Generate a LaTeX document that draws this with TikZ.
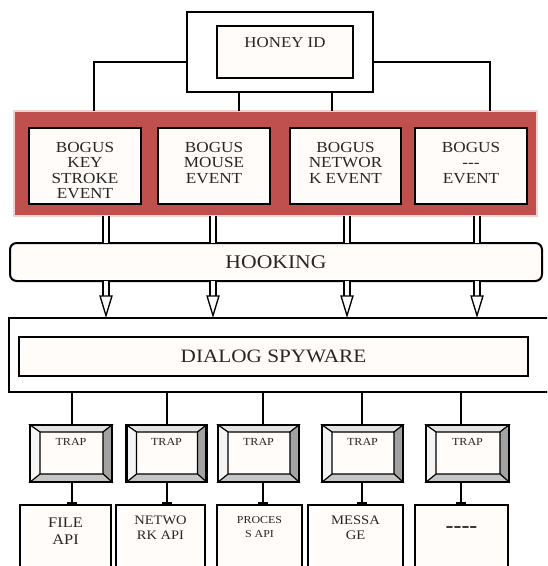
\documentclass[tikz,border=0pt]{standalone}
\usepackage{fontspec}
\setmainfont{Liberation Serif}[FakeStretch=1.12]
\usepackage{tikz}
\usetikzlibrary{arrows.meta,calc}
\definecolor{HoneyRed}{HTML}{C0504D}
\definecolor{HoneyPink}{HTML}{EFD3D2}
\definecolor{HoneyPaper}{HTML}{FFFCF9}
\definecolor{HoneyInk}{HTML}{262626}
\definecolor{HoneyBevelT}{HTML}{E2E2E2}
\definecolor{HoneyBevelL}{HTML}{F5F5F5}
\definecolor{HoneyBevelR}{HTML}{A2A2A2}
\definecolor{HoneyBevelB}{HTML}{C6C6C6}
\newcommand{\fs}[2]{\fontsize{#1pt}{#2pt}\selectfont}

\begin{document}
\begin{tikzpicture}[x=0.75pt,y=-0.75pt,
  sz/.style 2 args={minimum width=#1*0.75pt,minimum height=#2*0.75pt},
  box/.style={draw,line width=1.5pt,fill=HoneyPaper,inner sep=0pt,outer sep=0pt,text=HoneyInk},
  thinbox/.style={box,line width=1.1pt},
  toptext/.style={anchor=north,align=center,inner sep=0pt,text=HoneyInk},
  event/.style={box,sz={112}{76},label={[toptext,yshift=-10.5pt,font=\fs{11.5}{11.5}]north:{#1}}},
  trap/.style={box,line width=1.8pt,label={[toptext,yshift=-9.75pt,font=\fs{8.1}{9}]north:TRAP}},
  link/.style={line width=1.1pt},
  shaft/.style={double=white,double distance=3.4pt,line width=1pt},
  hollow/.style={shaft,-{Triangle[open,length=17pt,width=10pt]}},
  tapped/.style={link,-{Rectangle[length=2.6pt,width=6.8pt]}},
  bevel/.style={draw,line width=0.8pt},
]
\useasboundingbox (0,0) rectangle (547,566);
\clip (0,0) rectangle (547,566);

% honey id
\node[box,fill=white,sz={186}{80}] (honeyframe) at (280,52) {};
\node[box,sz={136}{52},label={[toptext,yshift=-8.25pt,font=\fs{11.3}{13}]north:HONEY ID}] (honey) at (285,52) {};

% bogus events
\node[draw=HoneyPink,line width=2pt,fill=HoneyRed,outer sep=0pt,sz={523}{105}] (panel) at (275.5,163.5) {};
\node[event={BOGUS\\KEY\\STROKE\\EVENT}] (keyev) at (85,166) {};
\node[event={BOGUS\\MOUSE\\EVENT}] (mouseev) at (214,166) {};
\node[event={BOGUS\\NETWOR\\K EVENT},sz={111}{76}] (netev) at (345.5,166) {};
\node[event={BOGUS\\-{}-{}-\\EVENT}] (otherev) at (471,166) {};

% hooking and spyware
\node[box,rounded corners=5pt,sz={532}{38},font=\fs{14.5}{15}] (hook) at (276,262) {HOOKING};
\node[thinbox,fill=white,sz={551}{74}] (spyframe) at (284.5,355) {};
\node[box,sz={509}{39},font=\fs{14.2}{15}] (spy) at (273.5,356.5) {DIALOG SPYWARE};

% traps
\foreach \x/\w [count=\n] in {71/82,166.5/80,258.5/81,362.5/81,467.5/83}
  \node[trap,sz={\w}{57}] (trap\n) at (\x,453.5) {};
\foreach \n in {1,...,5} {
  \path (trap\n.north west) coordinate (tnw) (trap\n.north east) coordinate (tne)
        (trap\n.south east) coordinate (tse) (trap\n.south west) coordinate (tsw)
        ($(tnw)+(10,7)$) coordinate (inw) ($(tne)+(-9,7)$) coordinate (ine)
        ($(tse)+(-9,-8)$) coordinate (ise) ($(tsw)+(10,-8)$) coordinate (isw);
  \draw[bevel,fill=HoneyBevelT] (tnw) -- (tne) -- (ine) -- (inw) -- cycle;
  \draw[bevel,fill=HoneyBevelR] (tne) -- (tse) -- (ise) -- (ine) -- cycle;
  \draw[bevel,fill=HoneyBevelB] (tse) -- (tsw) -- (isw) -- (ise) -- cycle;
  \draw[bevel,fill=HoneyBevelL] (tsw) -- (tnw) -- (inw) -- (isw) -- cycle;
  \draw[line width=1.8pt] (tnw) rectangle (tse);
}

% apis
\node[thinbox,sz={91}{70},label={[toptext,yshift=-9.75pt,font=\fs{11}{12.75}]north:{FILE\\API}}] (api1) at (65.5,540) {};
\node[thinbox,sz={89}{70},label={[toptext,yshift=-8.25pt,font=\fs{9.7}{11.3}]north:{NETWO\\RK API}}] (api2) at (160.5,540) {};
\node[thinbox,sz={85}{70},label={[toptext,yshift=-8.25pt,font=\fs{8}{10.5}]north:{PROCES\\S API}}] (api3) at (259.5,540) {};
\node[thinbox,sz={95}{70},label={[toptext,yshift=-8.25pt,font=\fs{9.8}{11.3}]north:{MESSA\\GE}}] (api4) at (355.5,540) {};
\node[thinbox,sz={93}{70},label={[toptext,yshift=-16pt,font=\bfseries\fs{16}{16}]north:{-{}-{}-{}-}}] (api5) at (461.5,540) {};

% connectors
\draw[link] (honeyframe.west |- 0,62) -| (panel.north -| 94,0);
\draw[link] (honeyframe.east |- 0,62) -| (panel.north -| 490,0);
\draw[link] (honeyframe.south -| 239,0) -- (panel.north -| 239,0);
\draw[link] (honeyframe.south -| 332,0) -- (panel.north -| 332,0);
\foreach \x in {106,213,347,477} {
  \draw[shaft] (panel.south -| \x,0) -- (hook.north -| \x,0);
  \draw[hollow] (hook.south -| \x,0) -- (spyframe.north -| \x,0);
}
\foreach \x [count=\n] in {72,167,263,362,461} {
  \draw[link] (spyframe.south -| \x,0) -- (trap\n.north -| \x,0);
  \draw[tapped] (trap\n.south -| \x,0) -- (api\n.north -| \x,0);
}
\end{tikzpicture}
\end{document}
